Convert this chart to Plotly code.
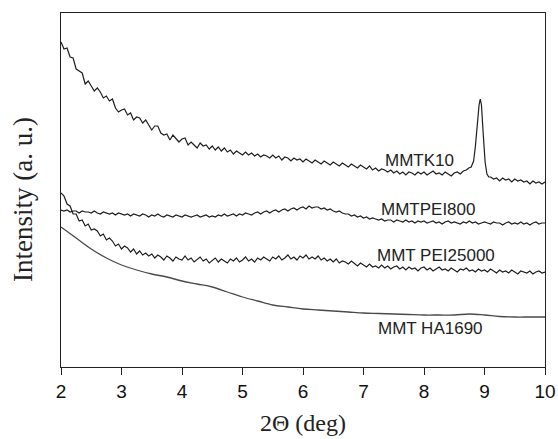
import numpy as np
import plotly.graph_objects as go

# ---------------- data (intensity in arbitrary units) ----------------
k10_main = [325, 318, 319, 310, 309, 298, 296, 294, 283, 286, 281, 276, 279, 275, 269, 271, 266, 268, 259, 255,
            257, 258, 252, 254, 247, 250, 249, 244, 247, 242, 237, 241, 241, 234, 232, 233, 227, 232, 228, 225,
            228, 229, 222, 225, 222, 219, 224, 221, 222, 218, 221, 217, 220, 216, 219, 215, 217, 213, 216, 214,
            212, 215, 212, 214, 211, 213, 210, 212, 211, 209, 212, 209, 211, 207, 210, 209, 206, 209, 207, 208,
            205, 208, 206, 204, 207, 205, 203, 206, 204, 202, 205, 203, 201, 204, 202, 200, 203, 201, 199, 202,
            200, 198, 201, 197, 199, 196, 198, 197, 195, 197, 194, 196, 193, 195, 192, 195, 194, 192, 195, 193,
            195, 192, 194, 196, 193, 194, 192, 195, 193, 191, 194, 195, 193, 196, 197]
k10_peak_x = [8.74, 8.78, 8.82, 8.85, 8.88, 8.91, 8.93, 8.95, 8.98, 9.01, 9.04, 9.07]
k10_peak_y = [199, 200, 206, 221, 245, 262, 268, 262, 232, 205, 193, 190]
k10_tail = [190, 188, 189, 186, 189, 187, 188, 185, 188, 186, 187, 185, 186, 183, 186,
            184, 185, 183, 185]

pei800 = [157, 156, 157, 155, 156, 156, 154, 156, 155, 155, 154, 156, 154, 153, 155, 154, 153, 154, 152, 154,
          153, 152, 153, 151, 153, 152, 151, 153, 152, 150, 152, 151, 153, 151, 150, 152, 151, 150, 152, 151,
          150, 152, 151, 150, 151, 152, 150, 151, 152, 150, 151, 150, 152, 151, 153, 151, 152, 153, 151, 153,
          152, 154, 153, 152, 154, 155, 153, 155, 156, 154, 156, 157, 155, 157, 158, 156, 158, 159, 157, 159,
          160, 158, 161, 159, 160, 160, 158, 159, 157, 158, 156, 155, 156, 154, 153, 153, 151, 152, 150, 151,
          149, 150, 148, 149, 148, 147, 148, 146, 147, 147, 145, 147, 146, 145, 147, 145, 146, 144, 146, 145,
          146, 144, 145, 146, 144, 145, 143, 145, 146, 144, 145, 144, 143, 145, 144, 146, 144, 145, 143, 144,
          145, 144, 143, 145, 144, 144, 142, 144, 145, 143, 144, 143, 145, 143, 144, 142, 144, 145, 143, 144,
          144]

pei25000 = [174, 171, 163, 161, 153, 153, 146, 147, 141, 143, 137, 138, 136, 131, 133, 127, 129, 126, 121, 123,
            118, 121, 119, 115, 118, 113, 116, 112, 114, 111, 113, 109, 112, 110, 107, 111, 109, 106, 110, 108,
            107, 111, 107, 109, 105, 108, 110, 106, 108, 104, 107, 109, 105, 108, 106, 104, 108, 106, 109, 105,
            107, 110, 106, 108, 105, 109, 107, 110, 108, 106, 110, 108, 111, 107, 109, 112, 108, 110, 107, 111,
            109, 112, 108, 110, 108, 111, 107, 109, 106, 108, 105, 108, 104, 106, 105, 103, 106, 103, 101, 104,
            102, 100, 103, 100, 101, 99, 102, 99, 101, 98, 100, 101, 98, 100, 97, 100, 98, 99, 96, 99,
            100, 97, 99, 96, 98, 100, 97, 98, 96, 99, 97, 95, 98, 97, 99, 96, 97, 95, 98, 96,
            97, 95, 98, 96, 94, 97, 95, 96, 94, 97, 95, 93, 96, 95, 94, 96, 93, 95, 96, 94,
            95]

ha1690 = [140, 129, 118, 109, 102, 97, 93, 90, 86, 83, 80, 75, 70, 66, 62, 60, 58, 57, 56,
          55, 54, 53.5, 53, 52.5, 52, 52, 52, 53, 52, 50.5, 50, 50, 50]

labels = ["MMTK10", "MMTPEI800", "MMT PEI25000", "MMT HA1690"]
label_x = [7.92, 8.07, 8.2, 8.1]
label_y = [207, 158, 112, 39]
x_ticks = [2, 3, 4, 5, 6, 7, 8, 9, 10]

# ---------------- figure ----------------
k10_x = np.concatenate([np.linspace(2.0, 8.70, len(k10_main)), k10_peak_x,
                        np.linspace(9.10, 10.0, len(k10_tail))])
k10_y = list(k10_main) + list(k10_peak_y) + list(k10_tail)

fig = go.Figure()
line = dict(color="#1e1e1e", width=1.2)
fig.add_trace(go.Scatter(x=k10_x, y=k10_y, mode="lines", line=line, name=labels[0]))
fig.add_trace(go.Scatter(x=np.linspace(2, 10, len(pei800)), y=pei800, mode="lines",
                         line=line, name=labels[1]))
fig.add_trace(go.Scatter(x=np.linspace(2, 10, len(pei25000)), y=pei25000, mode="lines",
                         line=line, name=labels[2]))
fig.add_trace(go.Scatter(x=np.linspace(2, 10, len(ha1690)), y=ha1690, mode="lines",
                         line=dict(color="#4a4a4a", width=1.3, shape="spline"),
                         name=labels[3]))

for t, lx, ly in zip(labels, label_x, label_y):
    fig.add_annotation(x=lx, y=ly, text=t, showarrow=False,
                       font=dict(family="Liberation Sans, Arial", size=17, color="#222"))

fig.add_annotation(xref="paper", yref="paper", x=0.5, y=-0.158, yanchor="middle",
                   text="2\u0398 (deg)", showarrow=False,
                   font=dict(family="Liberation Serif, Times New Roman", size=24, color="#222"))
fig.add_annotation(xref="paper", yref="paper", x=0, xshift=-38, y=0.472, xanchor="center",
                   yanchor="middle", textangle=-90, text="Intensity (a. u.)",
                   showarrow=False,
                   font=dict(family="Liberation Serif, Times New Roman", size=27, color="#222"))

fig.update_layout(
    width=558, height=439,
    margin=dict(l=61, r=13, t=13, b=72, autoexpand=False),
    paper_bgcolor="white", plot_bgcolor="white",
    showlegend=False,
    xaxis=dict(range=[2, 10], tickvals=x_ticks, ticks="outside", ticklen=7, tickwidth=1.4,
               tickcolor="#222", showline=True, linecolor="#222", linewidth=1.4, mirror=True,
               showgrid=False, zeroline=False, automargin=False,
               tickfont=dict(family="Liberation Sans, Arial", size=19, color="#111")),
    yaxis=dict(range=[0, 354], showticklabels=False, ticks="", showline=True,
               linecolor="#222", linewidth=1.4, mirror=True, showgrid=False, zeroline=False,
               automargin=False),
)

fig.write_html("out.html")
